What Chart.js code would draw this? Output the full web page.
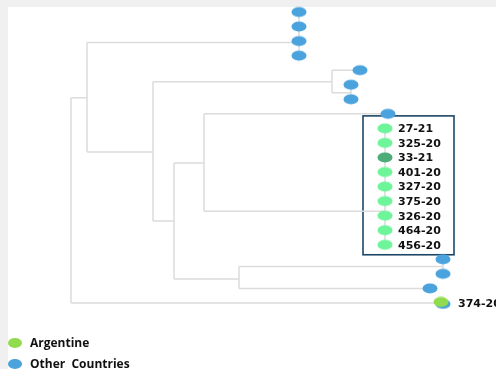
<!DOCTYPE html>
<html>
<head>
<meta charset="utf-8">
<script src="https://cdn.jsdelivr.net/npm/chart.js@4.4.0/dist/chart.umd.min.js"></script>
<style>
  html, body { margin: 0; padding: 0; background: #fff; }
  canvas { display: block; }
</style>
</head>
<body>
<canvas id="tree" width="496" height="369"></canvas>
<script>
'use strict';
// tree data: internal nodes (distance from root, row where the parent branch joins)
const nodeIds = ['root', 'u', 'a', 'v', 'b', 'b2', 'w', 'x', 'g', 'y', 'z'];
const nodeParents = [null, 'root', 'u', 'u', 'v', 'b', 'v', 'w', 'x', 'w', 'y'];
const nodeDist = [0, 16, 228, 82, 261, 280, 103, 133, 314, 168, 372];
const nodeRows = [5.9, 5.9, 2.1, 9.62, 4.8, 5.55, 14.36, 10.38, 13.7, 18.35, 17.5];

// leaves (tips), one per row
const leafNames = ['', '', '', '', '', '', '', '',
  '27-21', '325-20', '33-21', '401-20', '327-20', '375-20', '326-20', '464-20', '456-20',
  '', '', '', '374-20'];
const leafGroups = ['other', 'other', 'other', 'other', 'other', 'other', 'other', 'other',
  'argentine', 'argentine', 'argentineDark', 'argentine', 'argentine', 'argentine', 'argentine', 'argentine', 'argentine',
  'other', 'other', 'other', 'mixed'];
const leafParents = ['a', 'a', 'a', 'a', 'b', 'b2', 'b2', 'x',
  'g', 'g', 'g', 'g', 'g', 'g', 'g', 'g', 'g',
  'z', 'z', 'y', 'root'];
const leafDist = [228, 228, 228, 228, 289, 280, 280, 317,
  314, 314, 314, 314, 314, 314, 314, 314, 314,
  372, 372, 359, 371];
const leafRows = [0, 1, 2, 3, 4, 5, 6, 7, 8, 9, 10, 11, 12, 13, 14, 15, 16, 17, 18, 19, 20];

// legend
const legendLabels = ['Argentine', 'Other  Countries'];
const legendGroups = ['argentineLegend', 'other'];

// colours per group
const groupColors = {
  other: '#4ba3dd',
  argentine: '#6ef59a',
  argentineDark: '#4cad78',
  argentineLegend: '#91dc4e'
};

//build an ellipse image to use as point style
function makeEllipse(color, under) {
  let c = document.createElement('canvas');
  c.width = 18;
  c.height = 13;
  let ctx = c.getContext('2d');
  if (under) {
    ctx.fillStyle = under;
    ctx.beginPath();
    ctx.ellipse(10, 7.5, 7.5, 5, 0, 0, Math.PI * 2);
    ctx.fill();
  }
  ctx.fillStyle = color;
  ctx.beginPath();
  ctx.ellipse(under ? 8 : 9, under ? 5.5 : 6.5, 7.5, 5, 0, 0, Math.PI * 2);
  ctx.fill();
  return c;
}

//lookups
let nodeIndex = {};
for (let i = 0; i < nodeIds.length; i++) {
  nodeIndex[nodeIds[i]] = i;
}

//rectangular cladogram edges, null breaks the line
let edges = [];
function addEdge(parentId, dist, row) {
  let p = nodeIndex[parentId];
  let px = nodeDist[p];
  let prow = nodeRows[p];
  edges.push({x: px, y: prow}, {x: px, y: row}, {x: null, y: null});
  edges.push({x: px, y: row}, {x: dist, y: row}, {x: null, y: null});
}
for (let i = 0; i < nodeIds.length; i++) {
  if (nodeParents[i]) {
    addEdge(nodeParents[i], nodeDist[i], nodeRows[i]);
  }
}
for (let i = 0; i < leafNames.length; i++) {
  addEdge(leafParents[i], leafDist[i], leafRows[i]);
}

//tip datasets per group
function tipsOf(group) {
  let pts = [];
  for (let i = 0; i < leafNames.length; i++) {
    if (leafGroups[i] === group) {
      pts.push({x: leafDist[i], y: leafRows[i], label: leafNames[i]});
    }
  }
  return pts;
}

let datasets = [
  {
    label: 'branches',
    data: edges,
    showLine: true,
    borderColor: '#dcdcdc',
    borderWidth: 1.5,
    pointRadius: 0,
    order: 10
  },
  {label: 'other', data: tipsOf('other'), pointStyle: makeEllipse(groupColors.other), order: 1},
  {label: 'argentine', data: tipsOf('argentine'), pointStyle: makeEllipse(groupColors.argentine), order: 1, labelOffset: 13},
  {label: 'argentineDark', data: tipsOf('argentineDark'), pointStyle: makeEllipse(groupColors.argentineDark), order: 1, labelOffset: 13},
  {label: 'mixed', data: tipsOf('mixed'), pointStyle: makeEllipse(groupColors.argentineLegend, groupColors.other), order: 0, labelOffset: 16}
];

// ---plugins---
//grey frame behind the white panel
const framePlugin = {
  id: 'frame',
  beforeDraw(chart) {
    let ctx = chart.ctx;
    ctx.save();
    ctx.fillStyle = '#f0f0f0';
    ctx.fillRect(0, 0, chart.width, chart.height);
    ctx.fillStyle = '#ffffff';
    ctx.fillRect(8, 7, chart.width - 8, chart.height - 7);
    ctx.restore();
  }
};

//box round the Argentine cluster
const boxPlugin = {
  id: 'clusterBox',
  beforeDatasetsDraw(chart) {
    let xs = chart.scales.x;
    let ys = chart.scales.y;
    let pts = tipsOf('argentine').concat(tipsOf('argentineDark'));
    let minRow = Math.min(...pts.map(p => p.y));
    let maxRow = Math.max(...pts.map(p => p.y));
    let cx = xs.getPixelForValue(pts[0].x);
    let top = ys.getPixelForValue(minRow) - 12.5;
    let bottom = ys.getPixelForValue(maxRow) + 10;
    let ctx = chart.ctx;
    ctx.save();
    ctx.strokeStyle = '#1d4666';
    ctx.lineWidth = 1.6;
    ctx.strokeRect(cx - 22, top, 91, bottom - top);
    ctx.restore();
  }
};

//tip labels and legend
const textPlugin = {
  id: 'texts',
  afterDraw(chart) {
    let ctx = chart.ctx;
    ctx.save();
    ctx.fillStyle = '#111';
    ctx.textBaseline = 'middle';
    ctx.font = 'bold 11px "DejaVu Sans"';
    chart.data.datasets.forEach((ds, di) => {
      if (!ds.labelOffset) return;
      let meta = chart.getDatasetMeta(di);
      meta.data.forEach((el, i) => {
        let label = ds.data[i].label;
        if (label) {
          ctx.fillText(label, el.x + ds.labelOffset, el.y + 1);
        }
      });
    });
    //legend
    ctx.font = 'bold 12px "Open Sans"';
    for (let i = 0; i < legendLabels.length; i++) {
      let y = 343 + i * 21;
      ctx.fillStyle = groupColors[legendGroups[i]];
      ctx.beginPath();
      ctx.ellipse(15, y, 7, 5, 0, 0, Math.PI * 2);
      ctx.fill();
      ctx.fillStyle = '#111';
      ctx.fillText(legendLabels[i], 30, y + 1);
    }
    ctx.restore();
  }
};

let ctx = document.getElementById('tree').getContext('2d');
new Chart(ctx, {
  type: 'scatter',
  data: {datasets: datasets},
  options: {
    responsive: false,
    animation: false,
    events: [],
    layout: {padding: 0, autoPadding: false},
    elements: {point: {radius: 6, hoverRadius: 6}},
    plugins: {
      legend: {display: false},
      tooltip: {enabled: false}
    },
    scales: {
      x: {type: 'linear', display: false, min: -71, max: 425},
      y: {type: 'linear', display: false, min: -0.825, max: 24.54, reverse: true}
    }
  },
  plugins: [framePlugin, boxPlugin, textPlugin]
});
</script>
</body>
</html>
